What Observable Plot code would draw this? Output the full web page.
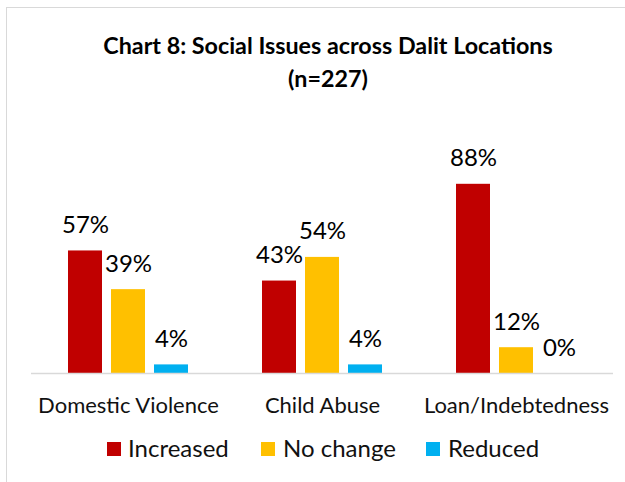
<!DOCTYPE html>
<html>
<head>
<meta charset="utf-8">
<script src="https://cdn.jsdelivr.net/npm/d3@7"></script>
<script src="https://cdn.jsdelivr.net/npm/@observablehq/plot@0.6"></script>
<style>
  html, body { margin: 0; padding: 0; background: #fff; }
  body { width: 625px; height: 482px; overflow: hidden; position: relative; font-family: Lato, "Open Sans", sans-serif; }
  #frame { position: absolute; left: 6px; top: 7px; width: 700px; height: 600px; border-left: 1.5px solid #d9d9d9; border-top: 1.5px solid #d9d9d9; box-sizing: border-box; }
  #chart { position: absolute; left: 0; top: 0; }
  #title { position: absolute; left: 0; top: 29px; width: 656px; text-align: center; font-weight: bold; font-size: 23.3px; line-height: 33px; color: #000; }
  .leg { position: absolute; top: 435.7px; font-size: 24px; line-height: 24px; color: #111; white-space: nowrap; }
  .sw { position: absolute; top: 442px; width: 14px; height: 14px; }
</style>
</head>
<body>
<div id="frame"></div>
<div id="chart"></div>
<div id="title">Chart 8: Social Issues across Dalit Locations<br>(n=227)</div>
<div id="legend"></div>
<script>
const categories = ["Domestic Violence", "Child Abuse", "Loan/Indebtedness"];
const statuses = ["Increased", "No change", "Reduced"];
const increased = [57, 43, 88];
const noChange = [39, 54, 12];
const reduced = [4, 4, 0];
const colors = ["#C00000", "#FFC000", "#00B0F0"];

const series = [increased, noChange, reduced];
const data = categories.flatMap((c, i) =>
  statuses.map((s, j) => ({category: c, status: s, value: series[j][i]}))
);

const chart = Plot.plot({
  width: 625,
  height: 482,
  marginLeft: 30,
  marginRight: 12,
  marginTop: 158,
  marginBottom: 109,
  style: {fontFamily: "Lato, 'Open Sans', sans-serif", fontSize: "22px", background: "transparent", color: "#000"},
  fx: {domain: categories, padding: 0, label: null},
  x: {domain: statuses, paddingInner: 0.21, paddingOuter: 0.86, axis: null},
  y: {domain: [0, 100], axis: null},
  color: {domain: statuses, range: colors},
  marks: [
    Plot.barY(data, {fx: "category", x: "status", y: "value", fill: "status"}),
    Plot.ruleY([0], {stroke: "#d9d9d9", strokeWidth: 1.5}),
    Plot.text(data, {fx: "category", x: "status", y: "value", text: d => d.value + "%", lineAnchor: "bottom", dy: -18, fill: "#000", fontSize: 24}),
    Plot.axisFx({anchor: "bottom", tickSize: 0, tickPadding: 24, label: null, fontSize: 22, color: "#111"})
  ]
});
document.getElementById("chart").appendChild(chart);

const legend = document.getElementById("legend");
const swX = [107, 261, 426];
const txX = [128, 283, 448];
statuses.forEach((s, i) => {
  const sw = document.createElement("div");
  sw.className = "sw";
  sw.style.left = swX[i] + "px";
  sw.style.background = colors[i];
  legend.appendChild(sw);
  const t = document.createElement("div");
  t.className = "leg";
  t.style.left = txX[i] + "px";
  t.textContent = s;
  legend.appendChild(t);
});
</script>
</body>
</html>
